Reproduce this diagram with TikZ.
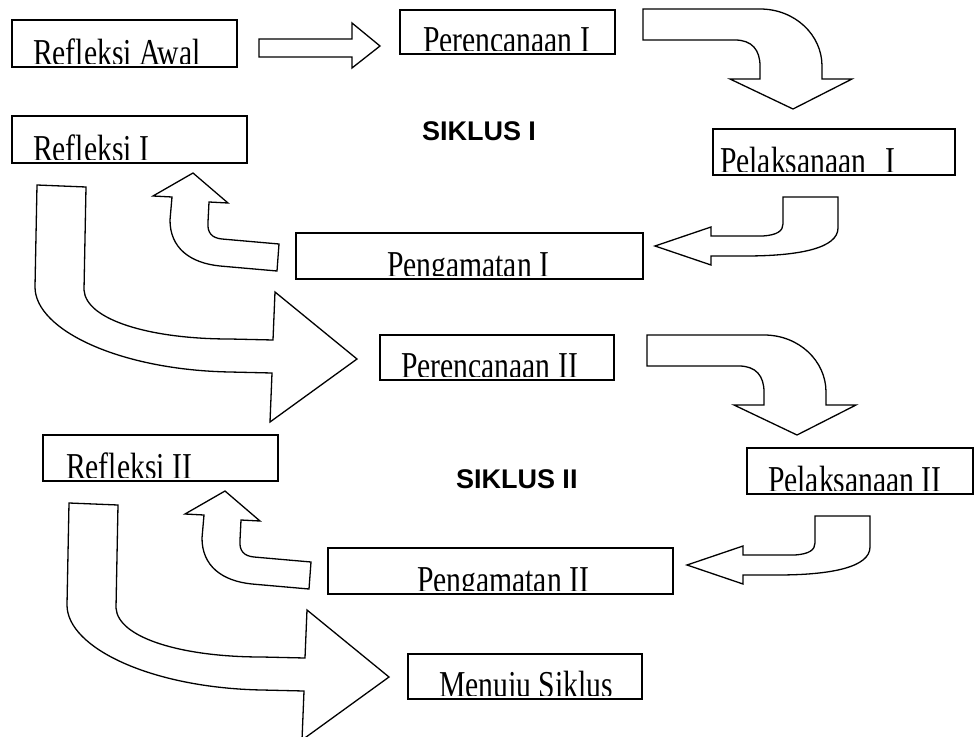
\documentclass[tikz,border=0pt]{standalone}
\usepackage{fontspec}
\newfontfamily\boxfont[FakeStretch=0.78]{Liberation Serif}
\newfontfamily\sikfont{Liberation Sans}
\newcommand\cliptxt[5]{%
  \begin{scope}
    \clip (#1.north west) rectangle ([yshift=4pt]#1.south east);
    \node[txt] (#2) at (#3,#4) {#5};
  \end{scope}}
\newcommand\shpCurve{(643,9) -- (760,9) .. controls (795,9) and (822,35) .. (822,66) -- (822,79) -- (852,79) -- (793,109) -- (730,79) -- (760,79) -- (760,66) .. controls (760,50) and (752,40) .. (735,40) -- (643,40) -- cycle}
\newcommand\shpLeft{(655,246) -- (711,227) -- (711,236) -- (763,236) .. controls (777,235) and (783,231) .. (783,224) -- (783,197) -- (838,197) -- (838,228) .. controls (838,248) and (800,256) .. (745,256) -- (711,256) -- (711,265) -- cycle}
\newcommand\shpUp{(193,173) -- (228,203) -- (209,202) -- (208,222) .. controls (207,233) and (212,238) .. (222,239) -- (279,244) -- (277,271) -- (220,266) .. controls (190,263) and (170,248) .. (170,220) -- (172,197) -- (153,196) -- cycle}
\newcommand\shpBig{(37,185) -- (86,187) -- (84,290) .. controls (86,320) and (150,339) .. (230,339) -- (273,340) -- (275,292) -- (357,359) -- (270,422) -- (272,373) -- (230,372) .. controls (120,370) and (35,330) .. (35,287) -- cycle}
\begin{document}
\begin{tikzpicture}[x=1pt,y=-1pt,
  box/.style={draw, line width=1.3pt, inner sep=0pt, outer sep=0pt, fill=white},
  blk/.style={draw, fill=white, line width=1.3pt, line join=miter},
  txt/.style={font=\boxfont\fontsize{38}{38}\selectfont, inner sep=0pt, outer sep=0pt, anchor=base west},
  sik/.style={font=\sikfont\bfseries\fontsize{27}{27}\selectfont, inner sep=0pt, outer sep=0pt, anchor=base west}]
\useasboundingbox (0,0) rectangle (974,736);
\clip (0,0) rectangle (974,736);
\fill[white] (0,0) rectangle (974,736);

% boxes
\node[box, minimum width=225pt, minimum height=47pt] (ra) at (124.5,43.5) {};
\node[box, minimum width=215pt, minimum height=44pt] (p1) at (507.5,32) {};
\node[box, minimum width=235pt, minimum height=47pt] (r1) at (129.5,139.5) {};
\node[box, minimum width=242pt, minimum height=46pt] (l1) at (834,152) {};
\node[box, minimum width=347pt, minimum height=46pt] (g1) at (469.5,256) {};
\node[box, minimum width=234pt, minimum height=45pt] (p2) at (497,357.5) {};
\node[box, minimum width=226pt, minimum height=46pt] (l2) at (860,471) {};
\node[box, minimum width=235pt, minimum height=46pt] (r2) at (160.5,458) {};
\node[box, minimum width=345pt, minimum height=46pt] (g2) at (500.5,571) {};
\node[box, minimum width=234pt, minimum height=45pt] (mj) at (525,676.5) {};

% texts (clipped at the bottom as in the source)
\cliptxt{ra}{tra}{33}{65}{Refleksi Awal}
\cliptxt{p1}{tp1}{423}{52}{Perencanaan I}
\cliptxt{r1}{tr1}{33}{161}{Refleksi I}
\cliptxt{l1}{tl1}{720}{173}{Pelaksanaan\hspace{0.5em}I}
\cliptxt{g1}{tg1}{387}{277}{Pengamatan I}
\cliptxt{p2}{tp2}{401}{378}{Perencanaan II}
\cliptxt{l2}{tl2}{768}{492}{Pelaksanaan II}
\cliptxt{r2}{tr2}{66}{479}{Refleksi II}
\cliptxt{g2}{tg2}{417}{592}{Pengamatan II}
\cliptxt{mj}{tmj}{439}{697}{Menuju Siklus}

\node[sik] (s1) at (422,140) {SIKLUS I};
\node[sik] (s2) at (456,488) {SIKLUS II};

% block arrows
\draw[blk] (259,39) -- (352,39) -- (352,23) -- (380,46) -- (352,68) -- (352,57) -- (259,57) -- cycle;
\draw[blk] \shpCurve;
\draw[blk] \shpLeft;
\draw[blk] \shpUp;
\draw[blk] \shpBig;
\begin{scope}[shift={(4,326)}]
  \draw[blk] \shpCurve;
\end{scope}
\begin{scope}[shift={(32,319)}]
  \draw[blk] \shpLeft;
\end{scope}
\begin{scope}[shift={(32,318)}]
  \draw[blk] \shpUp;
  \draw[blk] \shpBig;
\end{scope}
\end{tikzpicture}
\end{document}
